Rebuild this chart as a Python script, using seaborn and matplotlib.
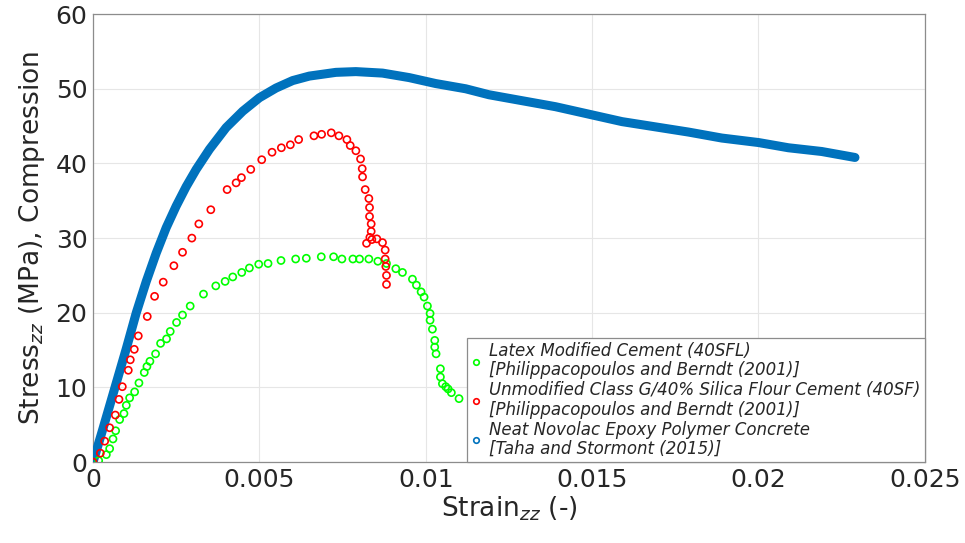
import matplotlib
matplotlib.use("Agg")
import matplotlib.pyplot as plt
from matplotlib.lines import Line2D
import seaborn as sns
import pandas as pd

# ---------------- data ----------------
latex_strain = [0.00017, 0.0004, 0.0005, 0.0006, 0.00068, 0.0008, 0.00093, 0.001, 0.0011,
                0.00125, 0.00138, 0.00154, 0.00162, 0.00171, 0.00188, 0.00203, 0.00221,
                0.00232, 0.00251, 0.00269, 0.00292, 0.00332, 0.00369, 0.00397, 0.0042,
                0.00447, 0.0047, 0.00498, 0.00526, 0.00565, 0.00609, 0.00641, 0.00686,
                0.00723, 0.00748, 0.00781, 0.00801, 0.00829, 0.00856, 0.00882, 0.0091,
                0.0093, 0.0096, 0.00972, 0.00986, 0.00995, 0.01005, 0.01013, 0.01013,
                0.0102, 0.01027, 0.01027, 0.01031, 0.01044, 0.01044, 0.0105, 0.0106,
                0.01067, 0.01077, 0.011]
latex_stress = [0.2, 1.0, 1.8, 3.1, 4.2, 5.7, 6.5, 7.6, 8.6,
                9.4, 10.6, 12.0, 12.8, 13.5, 14.5, 15.9, 16.5,
                17.5, 18.7, 19.7, 20.9, 22.5, 23.6, 24.2, 24.8,
                25.4, 26.0, 26.5, 26.6, 27.0, 27.2, 27.3, 27.5,
                27.5, 27.2, 27.2, 27.2, 27.2, 26.9, 26.6, 25.9,
                25.4, 24.5, 23.7, 22.8, 22.1, 20.9, 19.9, 19.0,
                17.8, 16.3, 15.4, 14.5, 12.5, 11.4, 10.5, 10.1,
                9.8, 9.3, 8.5]

silica_strain = [0.0, 0.00022, 0.00035, 0.0005, 0.00067, 0.00078, 0.00088, 0.00106, 0.00112,
                 0.00124, 0.00136, 0.00163, 0.00185, 0.00211, 0.00243, 0.00269, 0.00297,
                 0.00318, 0.00354, 0.00403, 0.0043, 0.00446, 0.00474, 0.00507, 0.00538,
                 0.00566, 0.00593, 0.00618, 0.00664, 0.00687, 0.00716, 0.00739, 0.00763,
                 0.00773, 0.0079, 0.00804, 0.00809, 0.0081, 0.00818, 0.00829, 0.00831,
                 0.00831, 0.00836, 0.00836, 0.00832, 0.00822, 0.00838, 0.00853, 0.0087,
                 0.00878, 0.00878, 0.0088, 0.00882, 0.00882]
silica_stress = [0.0, 1.2, 2.8, 4.6, 6.3, 8.4, 10.1, 12.3, 13.7,
                 15.1, 16.9, 19.5, 22.2, 24.1, 26.3, 28.1, 30.0,
                 31.9, 33.8, 36.5, 37.4, 38.1, 39.2, 40.5, 41.5,
                 42.1, 42.5, 43.2, 43.7, 43.9, 44.1, 43.7, 43.2,
                 42.4, 41.7, 40.6, 39.3, 38.2, 36.5, 35.3, 34.1,
                 32.9, 31.9, 30.9, 30.1, 29.3, 29.8, 29.9, 29.4,
                 28.4, 27.2, 26.2, 25.0, 23.8]

epoxy_strain = [0.0, 0.0003, 0.00066, 0.001, 0.0013, 0.0016, 0.0019, 0.0022, 0.0025,
                0.0028, 0.0031, 0.0035, 0.004, 0.0045, 0.005, 0.0055, 0.006, 0.0065,
                0.0073, 0.0079, 0.0087, 0.0095, 0.0103, 0.0112, 0.0119, 0.0129, 0.0139,
                0.015, 0.0159, 0.0169, 0.0179, 0.0189, 0.020, 0.0209, 0.0219, 0.0229]
epoxy_stress = [0.0, 4.5, 10.0, 15.2, 20.0, 24.2, 28.0, 31.4, 34.3,
                36.9, 39.2, 41.9, 44.8, 47.0, 48.8, 50.1, 51.1, 51.7,
                52.2, 52.3, 52.1, 51.5, 50.7, 50.0, 49.2, 48.4, 47.6,
                46.5, 45.6, 44.9, 44.2, 43.4, 42.8, 42.1, 41.6, 40.8]

labels = ["Latex Modified Cement (40SFL)\n[Philippacopoulos and Berndt (2001)]",
          "Unmodified Class G/40% Silica Flour Cement (40SF)\n[Philippacopoulos and Berndt (2001)]",
          "Neat Novolac Epoxy Polymer Concrete\n[Taha and Stormont (2015)]"]
x_ticks = [0, 0.005, 0.01, 0.015, 0.02, 0.025]
x_tick_labels = ["0", "0.005", "0.01", "0.015", "0.02", "0.025"]
y_ticks = [0, 10, 20, 30, 40, 50, 60]

GREEN = "#00FF00"
RED = "#FF0000"
BLUE = "#0072BD"

# ---------------- plot ----------------
sns.set_style("white")
plt.rcParams["font.family"] = ["DejaVu Sans"]

fig = plt.figure(figsize=(9.65, 5.43), dpi=100)
ax = fig.add_axes([0.0964, 0.149, 0.862, 0.825])

df_latex = pd.DataFrame({"strain": latex_strain, "stress": latex_stress})
df_silica = pd.DataFrame({"strain": silica_strain, "stress": silica_stress})
df_epoxy = pd.DataFrame({"strain": epoxy_strain, "stress": epoxy_stress})

sns.lineplot(data=df_epoxy, x="strain", y="stress", ax=ax, color=BLUE,
             linewidth=6.5, solid_capstyle="round", solid_joinstyle="round", zorder=3)
sns.scatterplot(data=df_latex, x="strain", y="stress", ax=ax, marker="o", s=26,
                facecolor="none", edgecolor=GREEN, linewidth=1.2, zorder=4)
sns.scatterplot(data=df_silica, x="strain", y="stress", ax=ax, marker="o", s=26,
                facecolor="none", edgecolor=RED, linewidth=1.2, zorder=5)

ax.set_xlim(0, 0.025)
ax.set_ylim(0, 60)
ax.set_xticks(x_ticks)
ax.set_xticklabels(x_tick_labels)
ax.set_yticks(y_ticks)
ax.grid(True, color="#E6E6E6", linewidth=0.8)
ax.set_axisbelow(True)
for s in ax.spines.values():
    s.set_color("#8C8C8C")
    s.set_linewidth(0.9)
ax.tick_params(axis="both", direction="in", length=5, width=0.8, colors="#8C8C8C",
               labelcolor="#262626", labelsize=18, pad=4)

ax.set_xlabel("Strain$_{zz}$ (-)", fontsize=19, color="#262626", labelpad=2)
ax.set_ylabel("Stress$_{zz}$ (MPa), Compression", fontsize=19, color="#262626", labelpad=6)

handles = [Line2D([], [], linestyle="none", marker="o", markersize=4, markerfacecolor="none",
                  markeredgecolor=c, markeredgewidth=1.2) for c in (GREEN, RED, BLUE)]
leg = ax.legend(handles, labels, loc="lower right", bbox_to_anchor=(1.0, 0.0),
                frameon=True, fancybox=False, framealpha=1, edgecolor="#8C8C8C",
                prop={"size": 12, "style": "italic"}, labelspacing=0.12,
                handlelength=0.6, handletextpad=0.5, borderpad=0.25, borderaxespad=0.0)
leg.get_frame().set_linewidth(0.9)
for t in leg.get_texts():
    t.set_color("#262626")
    t.set_linespacing(1.1)

fig.savefig("out.png", dpi=100)
